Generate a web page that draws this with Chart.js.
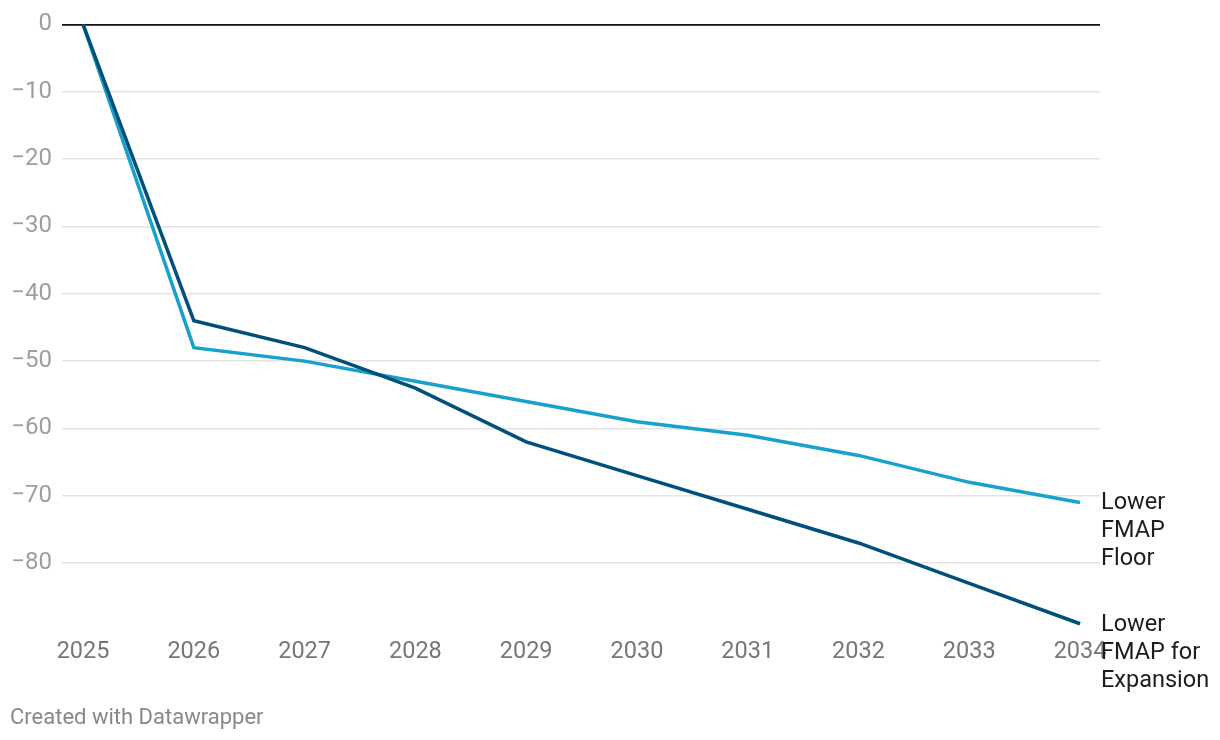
<!DOCTYPE html>
<html>
<head>
<meta charset="utf-8">
<script src="https://cdn.jsdelivr.net/npm/chart.js@4.4.1/dist/chart.umd.min.js"></script>
<style>
  html, body { margin: 0; padding: 0; background: #fff; }
  #wrap { position: relative; width: 1220px; height: 740px; }
  #credit {
    position: absolute; left: 10px; top: 704px;
    font: 22px Roboto, sans-serif; color: #888;
  }
</style>
</head>
<body>
<div id="wrap">
  <canvas id="chart" width="1220" height="740"></canvas>
  <div id="credit">Created with Datawrapper</div>
</div>
<script>
    const years = [2025, 2026, 2027, 2028, 2029, 2030, 2031, 2032, 2033, 2034];
    const expansionValues = [0, -44, -48, -54, -62, -67, -72, -77, -83, -89];
    const floorValues = [0, -48, -50, -53, -56, -59, -61, -64, -68, -71];
    const yTicks = [0, -10, -20, -30, -40, -50, -60, -70, -80];
    const expansionLabel = ['Lower', 'FMAP for', 'Expansion'];
    const floorLabel = ['Lower', 'FMAP', 'Floor'];

    const FONT = 'Roboto, sans-serif';

    // line labels at the right end of each series
    const endLabels = {
        id: 'endLabels',
        afterDatasetsDraw(chart) {
            const ctx = chart.ctx;
            ctx.save();
            ctx.font = '23.5px ' + FONT;
            ctx.fillStyle = '#1d1d1d';
            ctx.textAlign = 'left';
            ctx.textBaseline = 'middle';
            chart.data.datasets.forEach(function(ds, i) {
                const pts = chart.getDatasetMeta(i).data;
                const last = pts[pts.length - 1];
                ds.endLabel.forEach(function(line, j) {
                    ctx.fillText(line, chart.chartArea.right + 1, last.y + 1 + j * 28);
                });
            });
            ctx.restore();
        }
    };

    new Chart(document.getElementById('chart'), {
        type: 'line',
        data: {
            datasets: [
                {
                    label: expansionLabel.join(' '),
                    endLabel: expansionLabel,
                    data: years.map(function(yr, i) { return { x: yr, y: expansionValues[i] }; }),
                    borderColor: '#00507b',
                    borderWidth: 3.5,
                    pointRadius: 0,
                    tension: 0,
                    order: 0
                },
                {
                    label: floorLabel.join(' '),
                    endLabel: floorLabel,
                    data: years.map(function(yr, i) { return { x: yr, y: floorValues[i] }; }),
                    borderColor: '#18a1cd',
                    borderWidth: 3.5,
                    pointRadius: 0,
                    tension: 0,
                    order: 1
                }
            ]
        },
        options: {
            responsive: false,
            animation: false,
            layout: { padding: { top: 23, right: 120, bottom: 59.5, left: 0 } },
            plugins: {
                legend: { display: false },
                tooltip: { enabled: false }
            },
            scales: {
                x: {
                    type: 'linear',
                    min: 2024.81,
                    max: 2034.18,
                    afterBuildTicks: function(scale) {
                        scale.ticks = years.map(function(v) { return { value: v }; });
                    },
                    afterFit: function(scale) { scale.height = 50; },
                    grid: { display: false, drawTicks: false },
                    border: { display: false },
                    ticks: {
                        padding: 8,
                        maxRotation: 0,
                        autoSkip: false,
                        color: '#777',
                        font: { family: FONT, size: 23.5 },
                        callback: function(v) { return String(v); }
                    }
                },
                y: {
                    min: -90,
                    max: 0,
                    afterBuildTicks: function(scale) {
                        scale.ticks = yTicks.map(function(v) { return { value: v }; });
                    },
                    afterFit: function(scale) { scale.width = 62; },
                    grid: {
                        drawTicks: false,
                        tickLength: 0,
                        color: function(c) { return c.tick && c.tick.value === 0 ? '#111' : '#e3e3e3'; },
                        lineWidth: function(c) { return c.tick && c.tick.value === 0 ? 1.8 : 1.5; }
                    },
                    border: { display: false },
                    ticks: {
                        padding: 10,
                        color: '#9e9e9e',
                        font: { family: FONT, size: 24 },
                        callback: function(v) { return v < 0 ? '\u2212' + Math.abs(v) : String(v); }
                    }
                }
            }
        },
        plugins: [endLabels]
    });
</script>
</body>
</html>
